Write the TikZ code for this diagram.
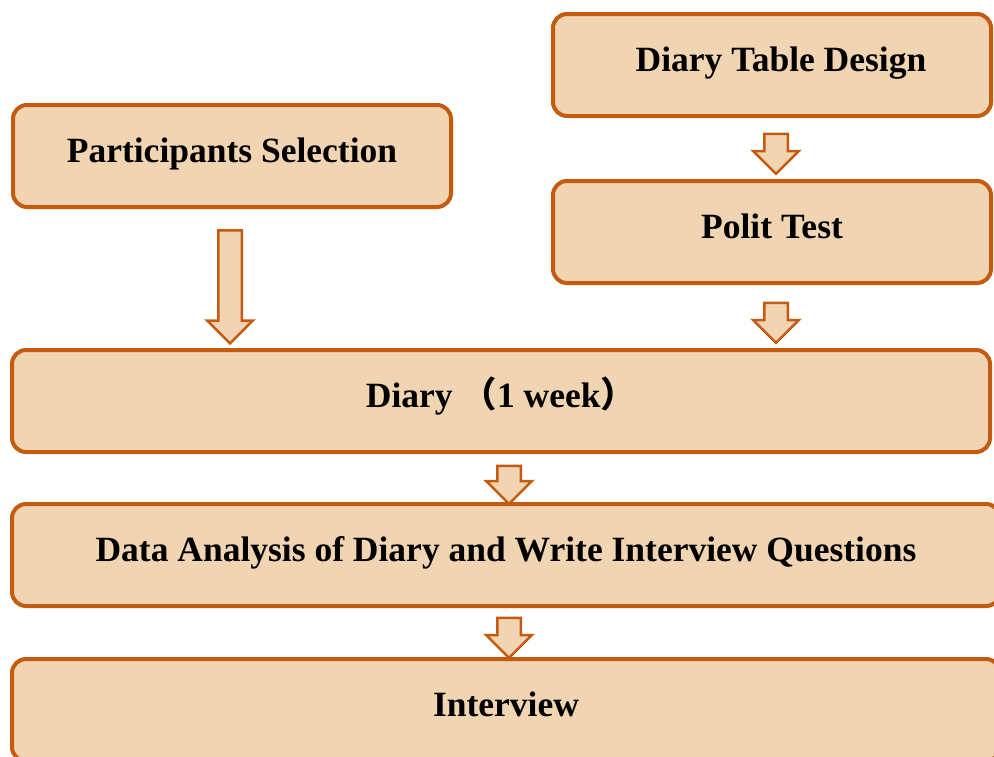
\documentclass[tikz,border=0pt]{standalone}
\usepackage{fontspec}
\setmainfont{Liberation Serif}
\newfontfamily\cjk{Noto Sans CJK SC}
\usetikzlibrary{shapes.arrows}
\definecolor{boxfill}{HTML}{F1D4B1}
\definecolor{boxline}{HTML}{C55A11}
\begin{document}
\begin{tikzpicture}[x=1pt,y=-1pt,
	stepbox/.style={ draw=boxline, line width=4pt, fill=boxfill, rounded corners=14pt, minimum height=102pt, inner sep=0pt, text height=25pt, text depth=12pt, font=\fontsize{35.5}{38}\selectfont\bfseries },
	flowarrow/.style={ single arrow, draw=boxline, line width=2.5pt, fill=boxfill, rotate=-90, inner xsep=0pt, inner ysep=10.5pt, minimum width=44pt, single arrow head extend=11pt }
]

\useasboundingbox (0,0) rectangle (994,756);

\node at (772,65) (design) [stepbox,minimum width=438pt] {\hspace*{18pt}Diary Table Design};
\node at (232,156) (select) [stepbox,minimum width=438pt] {Participants Selection};
\node at (772,232) (pilot) [stepbox,minimum width=438pt] {Polit Test};
\node at (501,401) (diary) [stepbox,minimum width=978pt] {Diary {\cjk （}1 week{\cjk ）}};
\node at (506,555) (analysis) [stepbox,minimum width=988pt] {Data Analysis of Diary and Write Interview Questions};
\node at (506,710) (interview) [stepbox,minimum width=988pt] {Interview};

\node at (230,281) (a1) [flowarrow,minimum height=113pt] {};
\node at (776,148) (a2) [flowarrow,minimum height=40pt] {};
\node at (776,317) (a3) [flowarrow,minimum height=40pt] {};
\node at (509,479) (a4) [flowarrow,minimum height=38pt] {};
\node at (509,632) (a5) [flowarrow,minimum height=40pt] {};

\end{tikzpicture}
\end{document}
